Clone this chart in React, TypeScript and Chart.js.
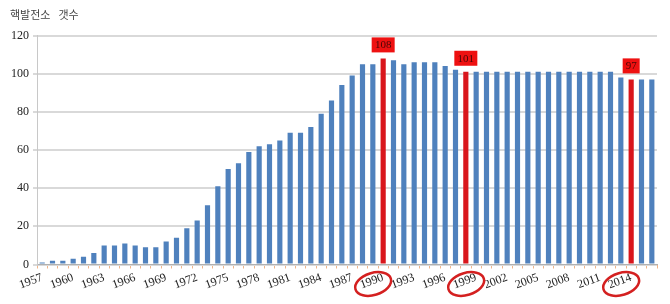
import React, { useEffect, useRef } from 'react';
import { Chart, registerables } from 'chart.js';

Chart.register(...registerables);

const TITLE_WORDS: string[] = ['핵발전소', '갯수'];

const years: string[] = [
  '1957', '1958', '1959', '1960', '1961', '1962', '1963', '1964', '1965', '1966',
  '1967', '1968', '1969', '1970', '1971', '1972', '1973', '1974', '1975', '1976',
  '1977', '1978', '1979', '1980', '1981', '1982', '1983', '1984', '1985', '1986',
  '1987', '1988', '1989', '1990', '1991', '1992', '1993', '1994', '1995', '1996',
  '1997', '1998', '1999', '2000', '2001', '2002', '2003', '2004', '2005', '2006',
  '2007', '2008', '2009', '2010', '2011', '2012', '2013', '2014', '2015', '2016',
];

const counts: number[] = [
  1, 2, 2, 3, 4, 6, 10, 10, 11, 10,
  9, 9, 12, 14, 19, 23, 31, 41, 50, 53,
  59, 62, 63, 65, 69, 69, 72, 79, 86, 94,
  99, 105, 105, 108, 107, 105, 106, 106, 106, 104,
  102, 101, 101, 101, 101, 101, 101, 101, 101, 101,
  101, 101, 101, 101, 101, 101, 98, 97, 97, 97,
];

// bars highlighted in red (with value boxes)
const highlightedBars: string[] = ['1990', '1998', '2014'];
// tick labels circled in red
const circledLabels: string[] = ['1990', '1999', '2014'];

const yTicks: number[] = [0, 20, 40, 60, 80, 100, 120];

const BLUE = '#4f81bd';
const RED = '#d9161c';

const annotationPlugin = {
  id: 'annotations',
  afterDatasetsDraw(chart: any) {
    const ctx = chart.ctx as CanvasRenderingContext2D;
    const meta = chart.getDatasetMeta(0);
    ctx.save();
    highlightedBars.forEach((yr) => {
      const i = years.indexOf(yr);
      const el = meta.data[i];
      if (!el) return;
      const text = String(counts[i]);
      ctx.font = '11px "Liberation Serif"';
      const tw = ctx.measureText(text).width;
      const w = Math.round(tw + 6);
      const h = 15;
      const x = el.x - w / 2;
      const y = el.y - 6 - h;
      ctx.fillStyle = '#ee1111';
      ctx.fillRect(x, y, w, h);
      ctx.fillStyle = '#4a0606';
      ctx.textAlign = 'center';
      ctx.textBaseline = 'middle';
      ctx.fillText(text, el.x, y + h / 2 + 0.5);
    });
    ctx.restore();
  },
  afterDraw(chart: any) {
    const ctx = chart.ctx as CanvasRenderingContext2D;
    const xs = chart.scales.x;
    ctx.save();
    // title
    ctx.fillStyle = '#444';
    ctx.font = '11px "Noto Sans CJK KR"';
    ctx.textAlign = 'left';
    ctx.textBaseline = 'top';
    let tx0 = 10;
    TITLE_WORDS.forEach((w) => {
      ctx.fillText(w, tx0, 9);
      tx0 += ctx.measureText(w).width + 8;
    });
    // ellipses around labels
    ctx.strokeStyle = '#d42020';
    ctx.lineWidth = 2.5;
    circledLabels.forEach((yr) => {
      const i = years.indexOf(yr);
      const tx = xs.getPixelForValue(i);
      ctx.beginPath();
      ctx.ellipse(tx - 10, xs.bottom - 22 + 2, 18.5, 11, -0.3, 0, Math.PI * 2);
      ctx.stroke();
    });
    ctx.restore();
  },
};

export default function App() {
  const ref = useRef<HTMLCanvasElement | null>(null);
  useEffect(() => {
    if (!ref.current) return;
    const chart = new Chart(ref.current, {
      type: 'bar',
      data: {
        labels: years,
        datasets: [
          {
            data: counts,
            backgroundColor: years.map((y) => (highlightedBars.includes(y) ? RED : BLUE)),
            barPercentage: 0.5,
            categoryPercentage: 1,
          },
        ],
      },
      options: {
        responsive: false,
        animation: false,
        devicePixelRatio: 1,
        layout: { padding: { left: 0, top: 35.5, right: 13, bottom: 0 } },
        plugins: { legend: { display: false }, tooltip: { enabled: false }, title: { display: false } },
        scales: {
          x: {
            offset: true,
            grid: {
              offset: true,
              drawOnChartArea: false,
              drawTicks: true,
              tickLength: 4,
              color: '#f0b488',
              lineWidth: 1,
            },
            border: { color: '#b0b0b0', width: 1 },
            ticks: {
              autoSkip: false,
              minRotation: 20,
              maxRotation: 20,
              padding: 2,
              color: '#222',
              font: { family: '"Liberation Serif"', size: 12 },
              callback: (v: any, i: number) => (i % 3 === 0 ? years[i] : ''),
            },
            afterFit: (s: any) => {
              s.height = 39.5;
            },
          },
          y: {
            min: 0,
            max: 120,
            afterBuildTicks: (s: any) => {
              s.ticks = yTicks.map((v) => ({ value: v }));
            },
            grid: {
              color: '#d9d9d9',
              lineWidth: 2,
              drawTicks: true,
              tickLength: 4,
            },
            border: { color: '#c8c8c8', width: 1 },
            ticks: {
              padding: 4,
              color: '#222',
              font: { family: '"Liberation Serif"', size: 12 },
            },
            afterFit: (s: any) => {
              s.width = 37;
            },
          },
        },
      },
      plugins: [annotationPlugin],
    });
    return () => chart.destroy();
  }, []);
  return (
    <div style={{ position: 'fixed', left: 0, top: 0, width: 670, height: 304, background: '#fff' }}>
      <canvas ref={ref} width={670} height={304} style={{ display: 'block' }} />
    </div>
  );
}
